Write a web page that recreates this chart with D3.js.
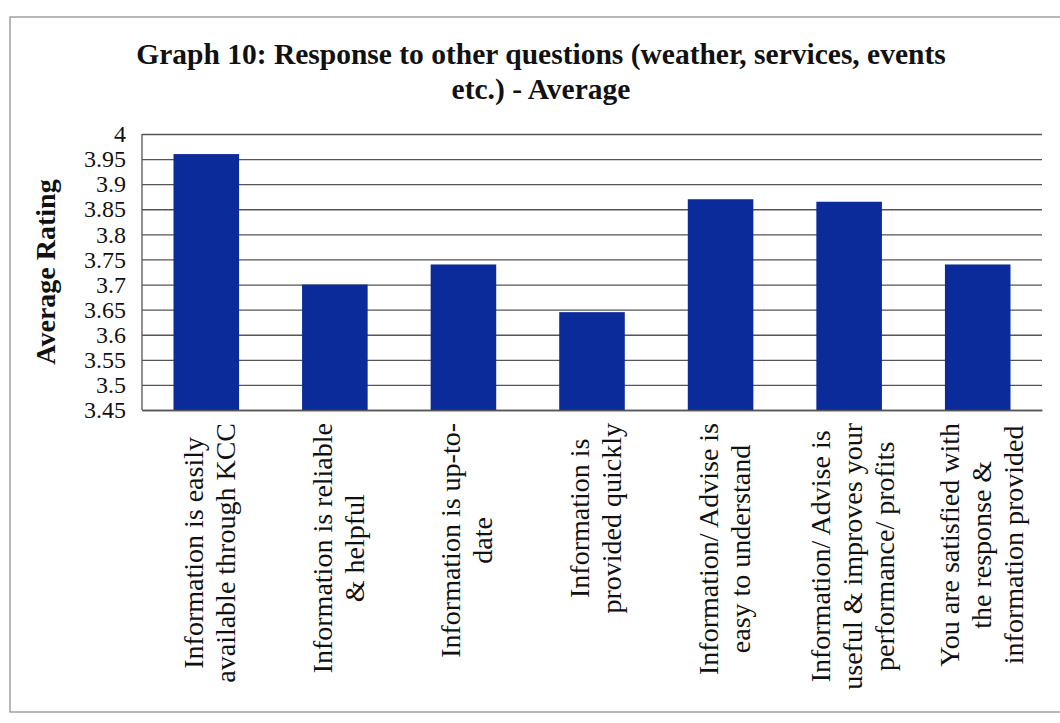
<!DOCTYPE html>
<html>
<head>
<meta charset="utf-8">
<script src="https://cdn.jsdelivr.net/npm/d3@7"></script>
<style>
  html, body { margin: 0; padding: 0; background: #ffffff; }
  svg { display: block; }
</style>
</head>
<body>
<svg id="chart" width="1060" height="723"></svg>
<script>
// ---- data ----
const categories = [
  "Information is easily available through KCC",
  "Information is reliable & helpful",
  "Information is up-to-date",
  "Information is provided quickly",
  "Information/ Advise is easy to understand",
  "Information/ Advise is useful & improves your performance/ profits",
  "You are satisfied with the response & information provided"
];
const categoryLines = [
  ["Information is easily", "available through KCC"],
  ["Information is reliable", "& helpful"],
  ["Information is up-to-", "date"],
  ["Information is", "provided quickly"],
  ["Information/ Advise is", "easy to understand"],
  ["Information/ Advise is", "useful & improves your", "performance/ profits"],
  ["You are satisfied with", "the response &", "information provided"]
];
const values = [3.96, 3.70, 3.74, 3.645, 3.87, 3.865, 3.74];
const yTickValues = [3.45, 3.5, 3.55, 3.6, 3.65, 3.7, 3.75, 3.8, 3.85, 3.9, 3.95, 4];
const yTickLabels = ["3.45", "3.5", "3.55", "3.6", "3.65", "3.7", "3.75", "3.8", "3.85", "3.9", "3.95", "4"];
const titleLines = ["Graph 10: Response to other questions (weather, services, events", "etc.) - Average"];
const yAxisTitle = "Average Rating";

// ---- layout ----
const svg = d3.select("#chart");
const plot = { left: 142, right: 1042, top: 134, bottom: 410 };
const serif = "'Liberation Serif', 'Times New Roman', serif";

// outer frame
svg.append("rect")
  .attr("x", 10).attr("y", 17).attr("width", 1070).attr("height", 695)
  .attr("fill", "#ffffff").attr("stroke", "#8a8a8a").attr("stroke-width", 1.2);

// scales
const x = d3.scaleBand()
  .domain(categories)
  .range([plot.left, plot.right])
  .paddingInner(0.49)
  .paddingOuter(0.245);

const y = d3.scaleLinear()
  .domain([3.45, 4])
  .range([plot.bottom, plot.top]);

// gridlines
svg.append("g")
  .attr("transform", `translate(${plot.left},0)`)
  .call(d3.axisLeft(y).tickValues(yTickValues).tickSize(-(plot.right - plot.left)).tickFormat(""))
  .call(g => g.select(".domain").remove())
  .call(g => g.selectAll(".tick line").attr("stroke", "#555555").attr("stroke-width", 1.3));

// y axis labels
svg.append("g")
  .attr("transform", `translate(${plot.left},0)`)
  .call(d3.axisLeft(y).tickValues(yTickValues).tickSize(0).tickPadding(16)
    .tickFormat((d, i) => yTickLabels[i]))
  .call(g => g.attr("font-family", null).attr("font-size", null))
  .call(g => g.select(".domain").remove())
  .call(g => g.selectAll(".tick text")
    .style("font-family", serif).style("font-size", "24px").attr("fill", "#111"));

// left vertical axis line
svg.append("line")
  .attr("x1", plot.left).attr("x2", plot.left)
  .attr("y1", plot.top).attr("y2", plot.bottom)
  .attr("stroke", "#555555").attr("stroke-width", 1.3);

// bars
svg.append("g").selectAll("rect")
  .data(values)
  .join("rect")
  .attr("x", (d, i) => x(categories[i]))
  .attr("width", x.bandwidth())
  .attr("y", d => y(d))
  .attr("height", d => y(3.45) - y(d))
  .attr("fill", "#0b2b9a");

// x axis baseline
svg.append("g")
  .attr("transform", `translate(0,${plot.bottom})`)
  .call(d3.axisBottom(x).tickSize(0).tickFormat(""))
  .call(g => g.select(".domain").attr("stroke", "#555555").attr("stroke-width", 1.3));

// category labels (rotated, multi-line, centered lines, block anchored at axis)
const lineGap = 32;
const labelTop = plot.bottom + 13;
categoryLines.forEach((lines, i) => {
  const cx = x(categories[i]) + x.bandwidth() / 2 + 4;
  const g = svg.append("g");
  const texts = lines.map((ln, j) => g.append("text")
    .style("font-family", serif)
    .style("font-size", "28px")
    .attr("fill", "#111")
    .attr("text-anchor", "middle")
    .text(ln));
  const maxLen = d3.max(texts, t => t.node().getComputedTextLength());
  const n = lines.length;
  texts.forEach((t, j) => {
    const lx = cx + (j - (n - 1) / 2) * lineGap + 9;
    const ly = labelTop + maxLen / 2;
    t.attr("transform", `translate(${lx},${ly}) rotate(-90)`);
  });
});

// y axis title
svg.append("text")
  .attr("transform", `translate(55,${(plot.top + plot.bottom) / 2}) rotate(-90)`)
  .attr("text-anchor", "middle")
  .style("font-family", serif)
  .attr("font-weight", "bold")
  .style("font-size", "28px")
  .attr("fill", "#111")
  .text(yAxisTitle);

// title
svg.append("g").selectAll("text")
  .data(titleLines)
  .join("text")
  .attr("x", 541)
  .attr("y", (d, i) => 64 + i * 35)
  .attr("text-anchor", "middle")
  .style("font-family", serif)
  .attr("font-weight", "bold")
  .style("font-size", "29.5px")
  .attr("fill", "#111")
  .text(d => d);
</script>
</body>
</html>
